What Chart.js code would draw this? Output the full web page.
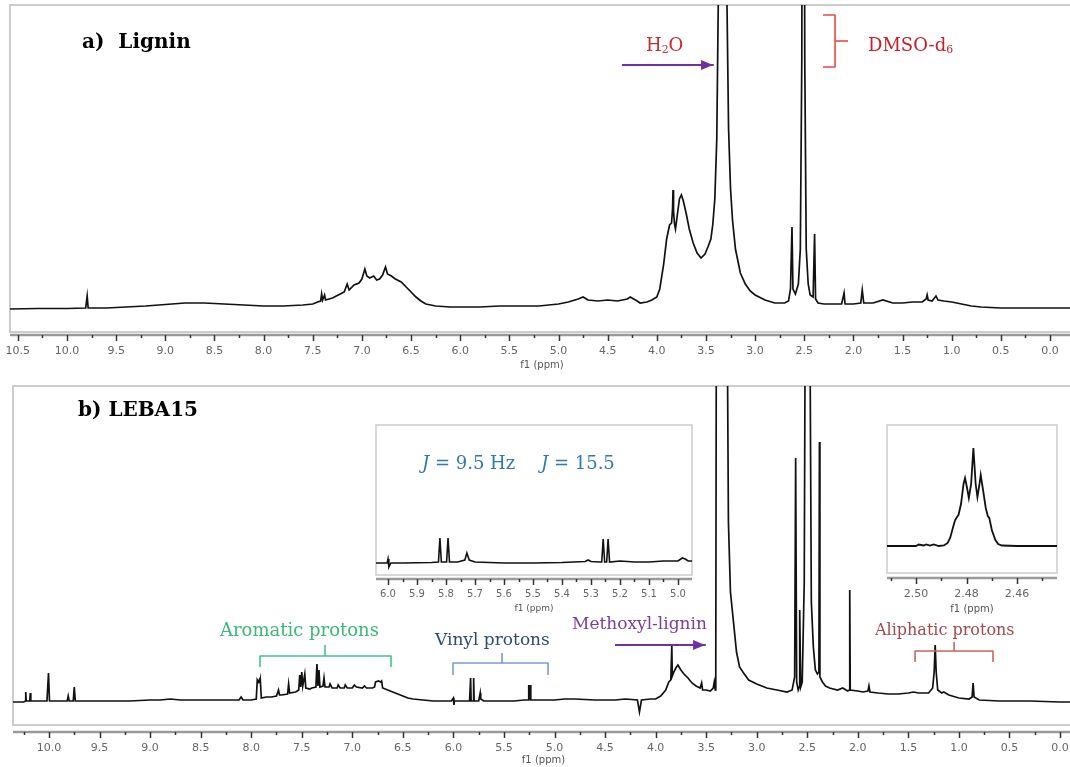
<!DOCTYPE html>
<html>
<head>
<meta charset="utf-8">
<script src="https://cdn.jsdelivr.net/npm/chart.js@4.4.1/dist/chart.umd.min.js"></script>
<style>
  body { margin: 0; width: 1070px; height: 767px; overflow: hidden; position: relative; background: #fff; font-family: 'DejaVu Serif', serif; }
  .box { position: absolute; }
  .lbl { position: absolute; white-space: nowrap; line-height: 1; }
  .lbl sub { font-size: 0.6em; vertical-align: -0.15em; }
</style>
</head>
<body>

<div class="box" style="left:0;top:0;width:1076px;height:372px"><canvas id="lignin" width="1076" height="372"></canvas></div>
<div class="box" style="left:0;top:372px;width:1076px;height:395px"><canvas id="leba" width="1076" height="395"></canvas></div>
<div class="box" style="left:370px;top:420px;width:330px;height:195px"><canvas id="vinyl" width="330" height="195"></canvas></div>
<div class="box" style="left:880px;top:420px;width:185px;height:195px"><canvas id="dmso" width="185" height="195"></canvas></div>

<div class="lbl" style="left:82px;top:31px;font-size:20px;font-weight:bold">a)&nbsp; Lignin</div>
<div class="lbl" style="left:78px;top:399px;font-size:20px;font-weight:bold">b) LEBA15</div>
<div class="lbl" style="left:646px;top:36px;font-size:18px;color:#c0302f">H<sub>2</sub>O</div>
<div class="lbl" style="left:868px;top:36px;font-size:18px;color:#c8202a">DMSO-d<sub>6</sub></div>
<div class="lbl" style="left:220px;top:621px;font-size:18px;color:#3cb878">Aromatic protons</div>
<div class="lbl" style="left:435px;top:631px;font-size:17px;color:#2d4b73">Vinyl protons</div>
<div class="lbl" style="left:572px;top:615px;font-size:17px;color:#7a3ea0">Methoxyl-lignin</div>
<div class="lbl" style="left:875px;top:622px;font-size:16px;color:#a5484a">Aliphatic protons</div>
<div class="lbl" style="left:422px;top:454px;font-size:18px;color:#2f78b4"><i>J</i> = 9.5 Hz</div>
<div class="lbl" style="left:541px;top:454px;font-size:18px;color:#2f78b4"><i>J</i> = 15.5</div>

<script>
// ---- data (ppm, height above baseline) ----

const ligninPpm = [10.58, 10.3, 10.0, 9.81, 9.795, 9.785, 9.6, 9.4, 9.2, 9.0, 8.8, 8.6, 8.4, 8.2, 8.0, 7.8, 7.6, 7.5,
  7.45, 7.42, 7.41, 7.40, 7.38, 7.37, 7.3, 7.22, 7.18, 7.15, 7.13, 7.08, 7.03, 7.0, 6.97, 6.95, 6.92, 6.88, 6.85,
  6.82, 6.79, 6.76, 6.74, 6.70, 6.66, 6.60, 6.55, 6.50, 6.45, 6.40, 6.35, 6.25, 6.1, 6.0, 5.8, 5.6, 5.4, 5.2, 5.0,
  4.9, 4.8, 4.75, 4.7, 4.6, 4.5, 4.4, 4.3, 4.27, 4.2, 4.17, 4.1, 4.05, 4.0, 3.97, 3.93, 3.90, 3.87, 3.85, 3.84,
  3.835, 3.83, 3.82, 3.81, 3.79, 3.77, 3.75, 3.73, 3.70, 3.67, 3.63, 3.59, 3.55, 3.51, 3.48, 3.45, 3.43, 3.41, 3.39,
  3.375, 3.36, 3.33, 3.30, 3.286, 3.27, 3.25, 3.23, 3.20, 3.15, 3.10, 3.05, 3.00, 2.90, 2.80, 2.70, 2.66, 2.64,
  2.625, 2.615, 2.59, 2.56, 2.54, 2.525, 2.51, 2.495, 2.48, 2.46, 2.44, 2.41, 2.395, 2.385, 2.36, 2.30, 2.2, 2.12,
  2.095, 2.085, 2.0, 1.925, 1.91, 1.895, 1.8, 1.7, 1.6, 1.5, 1.4, 1.3, 1.26, 1.25, 1.24, 1.2, 1.16, 1.14, 1.08,
  1.0, 0.95, 0.9, 0.8, 0.7, 0.5, 0.2, 0.0, -0.25];
const ligninInt = [0, 0.5, 0.5, 1, 13, 1, 1, 2, 3, 4.5, 6, 6, 5, 4, 3, 3, 4, 5,
  7, 8, 15, 9, 14, 9, 11, 15, 17, 25, 19, 24, 26, 30, 40, 33, 31, 33, 29,
  30, 34, 42, 35, 33, 30, 27, 22, 17, 12, 8, 5, 3, 2, 2, 2, 3, 3, 3, 5,
  7, 10, 12, 9, 8, 9, 8, 10, 12, 8, 6, 7, 9, 12, 20, 45, 70, 84, 86, 100,
  119, 98, 85, 80, 95, 110, 114, 108, 95, 80, 66, 56, 51, 55, 62, 70, 85, 110, 170,
  304, 520, 900, 520, 304, 180, 120, 89, 60, 36, 25, 18, 14, 9, 6, 6, 8, 20,
  82, 20, 15, 25, 60, 250, 1000, 250, 60, 25, 14, 12, 75, 10, 6, 5, 5, 5,
  16, 5, 5, 6, 19, 6, 6, 9, 6, 6, 7, 7, 10, 14, 9, 8, 13, 9, 8,
  7, 6, 5, 3, 2, 1, 1, 1, 1];

const lebaPpm = [10.36, 10.25, 10.235, 10.23, 10.225, 10.19, 10.185, 10.18, 10.1, 10.02, 10.005, 9.995, 9.9, 9.82,
  9.81, 9.80, 9.76, 9.75, 9.74, 9.6, 9.4, 9.2, 9.0, 8.9, 8.8, 8.7, 8.5, 8.3, 8.12, 8.10, 8.08, 8.0, 7.95, 7.94,
  7.93, 7.92, 7.915, 7.91, 7.90, 7.85, 7.80, 7.75, 7.73, 7.72, 7.70, 7.64, 7.63, 7.62, 7.56, 7.53, 7.52, 7.51, 7.50,
  7.49, 7.47, 7.46, 7.42, 7.40, 7.36, 7.35, 7.34, 7.33, 7.32, 7.29, 7.28, 7.27, 7.23, 7.22, 7.20, 7.15, 7.14, 7.12,
  7.08, 7.07, 7.05, 7.0, 6.98, 6.96, 6.90, 6.88, 6.86, 6.80, 6.78, 6.77, 6.74, 6.72, 6.71, 6.70, 6.65, 6.6, 6.55,
  6.5, 6.45, 6.4, 6.3, 6.2, 6.1, 6.02, 6.0, 5.995, 5.99, 5.9, 5.84, 5.83, 5.825, 5.805, 5.80, 5.795, 5.75, 5.735,
  5.73, 5.7, 5.5, 5.4, 5.3, 5.26, 5.255, 5.25, 5.24, 5.235, 5.2, 5.1, 5.0, 4.9, 4.8, 4.6, 4.4, 4.3, 4.18, 4.16,
  4.14, 4.05, 4.0, 3.95, 3.9, 3.87, 3.85, 3.84, 3.835, 3.82, 3.80, 3.78, 3.75, 3.72, 3.68, 3.64, 3.60, 3.56, 3.545,
  3.535, 3.50, 3.46, 3.43, 3.42, 3.41, 3.405, 3.40, 3.35, 3.29, 3.28, 3.26, 3.245, 3.23, 3.20, 3.17, 3.13, 3.08,
  3.0, 2.9, 2.8, 2.7, 2.65, 2.625, 2.615, 2.605, 2.59, 2.58, 2.575, 2.565, 2.55, 2.53, 2.52, 2.49, 2.475, 2.46,
  2.44, 2.42, 2.40, 2.385, 2.38, 2.375, 2.35, 2.32, 2.28, 2.2, 2.15, 2.10, 2.085, 2.08, 2.075, 2.0, 1.95, 1.90,
  1.89, 1.88, 1.8, 1.7, 1.6, 1.5, 1.45, 1.4, 1.3, 1.26, 1.245, 1.235, 1.225, 1.21, 1.17, 1.15, 1.1, 1.0, 0.9,
  0.87, 0.86, 0.85, 0.8, 0.6, 0.3, 0.0, -0.15];
const lebaInt = [0, 0, 1, 10, 1, 1, 9, 1, 1, 1, 29, 1, 1, 1,
  6, 1, 1, 15, 1, 1, 1, 1, 2, 2, 3, 2, 2, 2, 2, 5, 2, 2, 3, 22,
  20, 22, 19, 22, 4, 5, 5, 6, 12, 7, 7, 8, 18, 9, 10, 12, 27, 15, 30,
  16, 28, 14, 13, 14, 15, 38, 16, 32, 15, 16, 24, 15, 15, 18, 14, 14, 17, 14,
  14, 17, 14, 14, 17, 15, 14, 16, 14, 14, 15, 20, 21, 20, 21, 14, 12, 10, 8,
  6, 4, 3, 2, 1, 1, 1, 4, -3, 1, 1, 1, 24, 1, 1, 24, 1, 1, 9,
  3, 1, 1, 1, 2, 2, 17, 2, 17, 2, 2, 2, 2, 3, 3, 2, 2, 3, 2, -10,
  2, 3, 3, 6, 12, 20, 22, 56, 26, 30, 34, 37, 32, 28, 24, 19, 16, 14, 19,
  12, 12, 11, 14, 20, 12, 40, 350, 3000, 350, 180, 110, 95, 80, 50, 35, 29, 22,
  18, 14, 12, 10, 12, 25, 244, 20, 12, 15, 92, 15, 20, 120, 400, 3000, 400, 100,
  55, 32, 28, 30, 260, 25, 20, 16, 14, 12, 14, 11, 12, 112, 12, 11, 10, 11,
  16, 10, 9, 8, 8, 9, 10, 9, 9, 14, 30, 57, 30, 12, 9, 10, 7, 4, 3,
  5, 19, 5, 2, 1, 1, 0, 0];

const vinylPpm = [6.05, 6.003, 6.0, 5.997, 5.99, 5.95, 5.85, 5.826, 5.821, 5.816, 5.798, 5.793, 5.788, 5.76, 5.735,
  5.728, 5.72, 5.70, 5.6, 5.5, 5.4, 5.32, 5.31, 5.30, 5.27, 5.263, 5.258, 5.253, 5.246, 5.241, 5.236, 5.2, 5.15,
  5.1, 5.05, 5.0, 4.985, 4.975, 4.965, 4.94];
const vinylInt = [0, 0, 4, -4, 0, 0, 0.5, 1, 25, 1, 1, 25, 1, 1, 3,
  10, 3, 1, 0, 0, 0.5, 1.5, 3, 1.5, 1, 1, 24, 1, 1, 24, 1, 2, 1,
  1, 2, 2, 5, 4, 2, 2];

const dmsoPpm = [2.512, 2.50, 2.499, 2.497, 2.496, 2.4945, 2.493, 2.491, 2.489, 2.4875, 2.4865, 2.485, 2.4845,
  2.4838, 2.4832, 2.4822, 2.4812, 2.4806, 2.4798, 2.4791, 2.4782, 2.4773, 2.4764, 2.4757, 2.4750, 2.4744, 2.4736,
  2.4724, 2.4716, 2.4710, 2.4700, 2.4686, 2.4675, 2.466, 2.46, 2.444];
const dmsoInt = [0, 0, 1.5, 0.5, 1.5, 0.5, 1.5, 0, 0.5, 3, 8, 22, 26,
  29, 31, 42, 62, 68, 58, 48, 62, 98, 62, 49, 60, 71, 58,
  38, 30, 28, 16, 6, 2, 0.5, 0, 0];

const mainTicks = [10.5, 10.0, 9.5, 9.0, 8.5, 8.0, 7.5, 7.0, 6.5, 6.0, 5.5, 5.0, 4.5, 4.0, 3.5, 3.0, 2.5, 2.0, 1.5, 1.0, 0.5, 0.0];
const vinylTicks = [6.0, 5.9, 5.8, 5.7, 5.6, 5.5, 5.4, 5.3, 5.2, 5.1, 5.0];
const dmsoTicks = [2.52, 2.50, 2.48, 2.46, 2.44];

// ---- helpers ----

const withMinor = major => {
    const out = [];
    major.forEach((v, i) => {
        out.push({ value: v, lab: true });
        if (i < major.length - 1) out.push({ value: (v + major[i + 1]) / 2, lab: false });
    });
    return out;
};

const framePlugin = {
    id: 'frame',
    beforeDatasetsDraw(chart, args, o) {
        const { ctx, chartArea: a } = chart;
        ctx.save();
        ctx.strokeStyle = '#cccccc';
        ctx.lineWidth = o.width;
        ctx.strokeRect(a.left, a.top, a.right - a.left, a.bottom - o.gap - a.top);
        ctx.restore();
    },
    afterDraw(chart, args, o) {
        const { ctx, chartArea: a, scales: { x, y } } = chart;
        ctx.save();
        // axis with major/minor ticks
        ctx.strokeStyle = '#9a9a9a';
        ctx.lineWidth = 2.5;
        ctx.beginPath();
        ctx.moveTo(a.left, a.bottom);
        ctx.lineTo(a.right, a.bottom);
        ctx.stroke();
        ctx.strokeStyle = '#333';
        ctx.lineWidth = 1.5;
        x.ticks.forEach(t => {
            const px = Math.round(x.getPixelForValue(t.value)) + 0.5;
            ctx.beginPath();
            ctx.moveTo(px, a.bottom);
            ctx.lineTo(px, a.bottom + (t.lab ? 6 : 3));
            ctx.stroke();
        });
        // annotation paths in data coords
        (o.paths || []).forEach(p => {
            const pts = p.pts.map(([ppm, h]) => [x.getPixelForValue(ppm), y.getPixelForValue(h)]);
            ctx.strokeStyle = p.color;
            ctx.fillStyle = p.color;
            ctx.lineWidth = p.width || 1.6;
            ctx.lineJoin = 'round';
            ctx.beginPath();
            pts.forEach(([px, py], i) => i ? ctx.lineTo(px, py) : ctx.moveTo(px, py));
            if (p.arrow) {
                const [ex, ey] = pts[pts.length - 1];
                ctx.lineTo(ex - 10, ey);
                ctx.stroke();
                ctx.beginPath();
                ctx.moveTo(ex, ey);
                ctx.lineTo(ex - 12, ey - 5);
                ctx.lineTo(ex - 12, ey + 5);
                ctx.closePath();
                ctx.fill();
            } else {
                ctx.stroke();
            }
        });
        ctx.restore();
    }
};

const makeSpectrum = (id, ppm, inten, cfg) => new Chart(document.getElementById(id), {
    type: 'line',
    data: {
        datasets: [{
            data: ppm.map((p, i) => ({ x: p, y: inten[i] })),
            borderColor: '#111',
            borderWidth: cfg.lineW || 1.7,
            pointRadius: 0,
            tension: 0,
            fill: false
        }]
    },
    options: {
        responsive: false,
        animation: false,
        devicePixelRatio: 1,
        layout: { padding: cfg.padding },
        plugins: {
            legend: { display: false },
            tooltip: { enabled: false },
            frame: { width: cfg.frameW || 2, gap: cfg.gap, paths: cfg.paths }
        },
        scales: {
            x: {
                type: 'linear',
                reverse: true,
                min: cfg.xMin,
                max: cfg.xMax,
                afterBuildTicks: s => {
                    s.ticks = withMinor(cfg.ticks)
                        .filter(t => t.value >= cfg.xMin && t.value <= cfg.xMax);
                },
                afterFit: s => {
                    s.height = cfg.axisH;
                    s.paddingLeft = 0;
                    s.paddingRight = 0;
                },
                grid: { display: false, drawTicks: false },
                border: { display: false },
                ticks: {
                    autoSkip: false,
                    maxRotation: 0,
                    padding: cfg.tickPad,
                    color: '#666',
                    font: { family: 'DejaVu Sans', size: cfg.tickSize },
                    callback: (v, i, ticks) => ticks[i].lab ? v.toFixed(cfg.dec) : ''
                },
                title: {
                    display: true,
                    text: 'f1 (ppm)',
                    color: '#555',
                    font: { family: 'DejaVu Sans', size: cfg.titleSize },
                    padding: { top: 0, bottom: cfg.titlePad }
                }
            },
            y: { display: false, min: cfg.yMin, max: cfg.yMax }
        }
    },
    plugins: [framePlugin]
});

// ---- charts ----

makeSpectrum('lignin', ligninPpm, ligninInt, {
    padding: { left: 10, right: 2, top: 5, bottom: 0 },
    xMin: -0.244, xMax: 10.58, yMin: -26, yMax: 304,
    ticks: mainTicks, dec: 1, axisH: 37, tickPad: 10, tickSize: 11, titleSize: 10, titlePad: 1, gap: 3,
    paths: [
        { pts: [[4.354, 244], [3.428, 244]], color: '#7030a0', width: 2, arrow: true },
        { pts: [[2.309, 294], [2.187, 294], [2.187, 242], [2.309, 242]], color: '#ee4848' },
        { pts: [[2.187, 268], [2.055, 268]], color: '#ee4848' }
    ]
});

makeSpectrum('leba', lebaPpm, lebaInt, {
    padding: { left: 13, right: 2, top: 14, bottom: 0 },
    xMin: -0.138, xMax: 10.356, yMin: -30, yMax: 316,
    ticks: mainTicks, dec: 1, axisH: 35, tickPad: 10, tickSize: 11, titleSize: 10, titlePad: 1, gap: 7,
    paths: [
        { pts: [[7.913, 35], [7.913, 46], [6.617, 46], [6.617, 35]], color: '#46c28a' },
        { pts: [[7.270, 46], [7.270, 57]], color: '#46c28a' },
        { pts: [[6.004, 27], [6.004, 39], [5.064, 39], [5.064, 27]], color: '#7a9cd0' },
        { pts: [[5.519, 39], [5.519, 49]], color: '#7a9cd0' },
        { pts: [[4.402, 57], [3.511, 57]], color: '#7030a0', width: 2, arrow: true },
        { pts: [[1.434, 40], [1.434, 51], [0.663, 51], [0.663, 40]], color: '#c86464' },
        { pts: [[1.048, 51], [1.048, 60]], color: '#c86464' }
    ]
});

makeSpectrum('vinyl', vinylPpm, vinylInt, {
    padding: { left: 6, right: 8, top: 5, bottom: 0 },
    xMin: 4.9517, xMax: 6.0414, yMin: -16, yMax: 138,
    ticks: vinylTicks, dec: 1, axisH: 36, tickPad: 9, tickSize: 10, titleSize: 9, titlePad: 1, gap: 4,
    lineW: 1.6, frameW: 1.5
});

makeSpectrum('dmso', dmsoPpm, dmsoInt, {
    padding: { left: 7, right: 8, top: 5, bottom: 0 },
    xMin: 2.4442, xMax: 2.5115, yMin: -32, yMax: 121,
    ticks: dmsoTicks, dec: 2, axisH: 37, tickPad: 10, tickSize: 11, titleSize: 10, titlePad: 0, gap: 5,
    lineW: 1.8, frameW: 1.5
});
</script>
</body>
</html>
